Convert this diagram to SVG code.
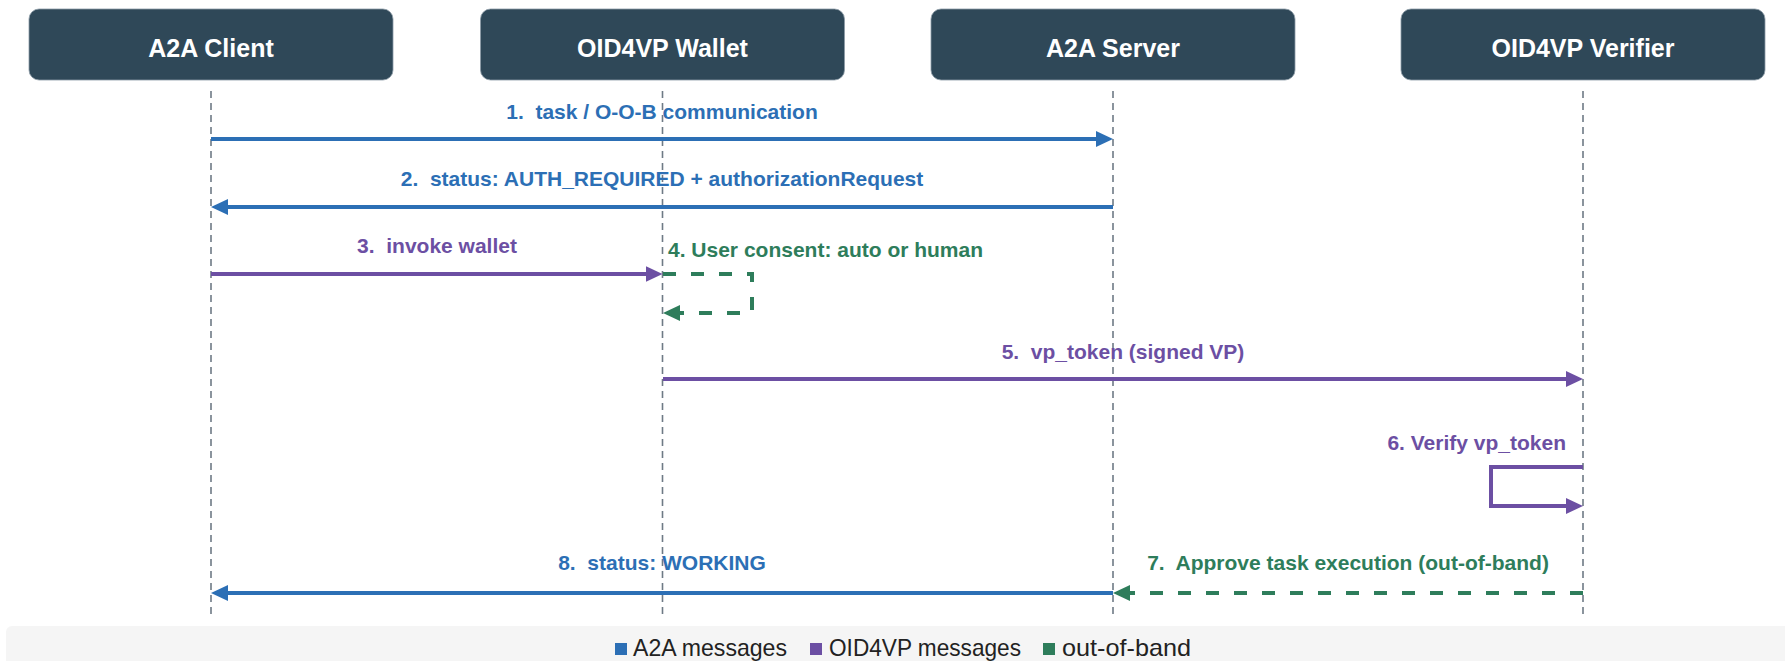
<svg xmlns="http://www.w3.org/2000/svg" width="1785" height="661" viewBox="0 0 1785 661">
  <style>
    .box { fill: #2F4858; stroke: #8C9BA6; stroke-width: 0.8; }
    .title { font-family: "Liberation Sans", Arial, sans-serif; font-weight: bold; font-size: 25px; fill: #FFFFFF; text-anchor: middle; }
    .life { stroke: #6E7A85; stroke-width: 1.6; stroke-dasharray: 7 5; fill: none; }
    .lbl { font-family: "Liberation Sans", Arial, sans-serif; font-weight: bold; font-size: 21px; }
    .blue { stroke: #2C6FB5; stroke-width: 4; fill: none; }
    .purple { stroke: #6C4FA3; stroke-width: 4; fill: none; }
    .green { stroke: #2E7D5B; stroke-width: 4; fill: none; stroke-dasharray: 13 15; }
    .tb { fill: #2C6FB5; }
    .tp { fill: #6C4FA3; }
    .tg { fill: #2E7D5B; }
    .leg { font-family: "Liberation Sans", Arial, sans-serif; font-size: 24px; fill: #222222; }
  </style>
  <defs>
    <marker id="hb" markerUnits="userSpaceOnUse" markerWidth="17" markerHeight="16" refX="6" refY="8" orient="auto">
      <path d="M0,0 L17,8 L0,16 z" fill="#2C6FB5"/>
    </marker>
    <marker id="hp" markerUnits="userSpaceOnUse" markerWidth="17" markerHeight="16" refX="6" refY="8" orient="auto">
      <path d="M0,0 L17,8 L0,16 z" fill="#6C4FA3"/>
    </marker>
    <marker id="hg" markerUnits="userSpaceOnUse" markerWidth="17" markerHeight="16" refX="6" refY="8" orient="auto">
      <path d="M0,0 L17,8 L0,16 z" fill="#2E7D5B"/>
    </marker>
  </defs>

  <rect x="6" y="626" width="1790" height="50" rx="6" fill="#F5F5F5"/>

  <g id="lifelines">
    <line class="life" x1="211" y1="91" x2="211" y2="615"/>
    <line class="life" x1="662.5" y1="91" x2="662.5" y2="615"/>
    <line class="life" x1="1113" y1="91" x2="1113" y2="615"/>
    <line class="life" x1="1583" y1="91" x2="1583" y2="615"/>
  </g>

  <g id="node-client">
    <rect class="box" x="29" y="9" width="364" height="71" rx="10"/>
    <text class="title" x="211" y="57">A2A Client</text>
  </g>
  <g id="node-wallet">
    <rect class="box" x="480.5" y="9" width="364" height="71" rx="10"/>
    <text class="title" x="662.5" y="57">OID4VP Wallet</text>
  </g>
  <g id="node-server">
    <rect class="box" x="931" y="9" width="364" height="71" rx="10"/>
    <text class="title" x="1113" y="57">A2A Server</text>
  </g>
  <g id="node-verifier">
    <rect class="box" x="1401" y="9" width="364" height="71" rx="10"/>
    <text class="title" x="1583" y="57">OID4VP Verifier</text>
  </g>

  <g id="connectors">
    <line class="blue" x1="211" y1="139" x2="1102" y2="139" marker-end="url(#hb)"/>
    <text class="lbl tb" x="662" y="119" text-anchor="middle" xml:space="preserve">1.  task / O-O-B communication</text>

    <line class="blue" x1="1113" y1="207" x2="222" y2="207" marker-end="url(#hb)"/>
    <text class="lbl tb" x="662" y="186" text-anchor="middle" xml:space="preserve">2.  status: AUTH_REQUIRED + authorizationRequest</text>

    <line class="purple" x1="211" y1="274" x2="651.5" y2="274" marker-end="url(#hp)"/>
    <text class="lbl tp" x="437" y="253" text-anchor="middle" xml:space="preserve">3.  invoke wallet</text>

    <path class="green" d="M663,274 H752 V313 H674" marker-end="url(#hg)"/>
    <text class="lbl tg" x="668" y="257">4. User consent: auto or human</text>

    <line class="purple" x1="663" y1="379" x2="1572" y2="379" marker-end="url(#hp)"/>
    <text class="lbl tp" x="1123" y="359" text-anchor="middle" xml:space="preserve">5.  vp_token (signed VP)</text>

    <path class="purple" d="M1583,467 H1491 V506 H1572" marker-end="url(#hp)"/>
    <text class="lbl tp" x="1566" y="450" text-anchor="end">6. Verify vp_token</text>

    <line class="green" x1="1583" y1="593" x2="1124" y2="593" marker-end="url(#hg)"/>
    <text class="lbl tg" x="1348" y="570" text-anchor="middle" xml:space="preserve">7.  Approve task execution (out-of-band)</text>

    <line class="blue" x1="1113" y1="593" x2="222" y2="593" marker-end="url(#hb)"/>
    <text class="lbl tb" x="662" y="570" text-anchor="middle" xml:space="preserve">8.  status: WORKING</text>
  </g>

  <g id="legend">
    <rect x="615" y="643" width="12" height="12" fill="#2C6FB5"/>
    <text class="leg" x="633" y="656" textLength="154" lengthAdjust="spacingAndGlyphs">A2A messages</text>
    <rect x="810" y="643" width="12" height="12" fill="#6C4FA3"/>
    <text class="leg" x="829" y="656" textLength="192" lengthAdjust="spacingAndGlyphs">OID4VP messages</text>
    <rect x="1043" y="643" width="12" height="12" fill="#2E7D5B"/>
    <text class="leg" x="1062" y="656" textLength="129" lengthAdjust="spacingAndGlyphs">out-of-band</text>
  </g>
</svg>
